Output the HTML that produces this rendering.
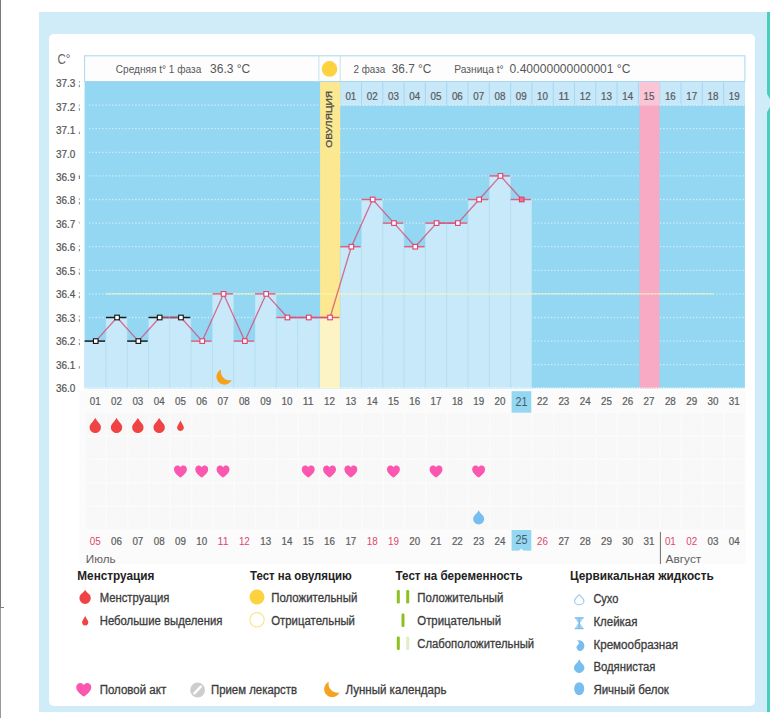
<!DOCTYPE html>
<html lang="ru">
<head>
<meta charset="utf-8">
<title>График базальной температуры</title>
<style>
html,body{margin:0;padding:0;background:#fff;}
body{width:770px;height:723px;position:relative;overflow:hidden;font-family:"Liberation Sans",sans-serif;}
.edge{position:absolute;left:0;top:0;width:1.3px;height:608px;background:#7a7a7a;}
.edge2{position:absolute;left:0;top:608px;width:1.2px;height:110px;background:#999;}
.edge-tick{position:absolute;left:0;top:606.5px;width:3.6px;height:1px;background:#808080;}
.outer{position:absolute;left:38.5px;top:12px;width:728px;height:700px;background:#d0ecf8;}
.strip{position:absolute;left:766.5px;top:12px;width:3.5px;height:700px;background:#45cfbf;}
.notch{position:absolute;left:766px;top:91.5px;width:0;height:0;border-top:11.5px solid transparent;border-bottom:11.5px solid transparent;border-left:6px solid #d0ecf8;}
.card{position:absolute;left:49px;top:34px;width:706.2px;height:671.5px;background:#fff;border-radius:5px;}
svg{position:absolute;left:0;top:0;}
svg text{font-family:"Liberation Sans",sans-serif;}
</style>
</head>
<body>
<div class="edge"></div><div class="edge2"></div><div class="edge-tick"></div>
<div class="outer"></div>
<div class="strip"></div><div class="notch"></div>
<div class="card"></div>
<svg width="770" height="723" viewBox="0 0 770 723">
<defs><pattern id="hatch" width="3" height="3" patternUnits="userSpaceOnUse"><rect width="3" height="3" fill="#f9f9f9"/><path d="M-1,1 l2,-2 M0,3 l3,-3 M2,4 l2,-2" stroke="#f5f5f5" stroke-width=".9"/></pattern></defs>
<g id="below"><rect x="79.5" y="390" width="665.9" height="174.5" fill="#fbfbfb"/><rect x="85.8" y="413.2" width="19.7" height="21.85" fill="url(#hatch)"/><rect x="107.1" y="413.2" width="19.7" height="21.85" fill="url(#hatch)"/><rect x="128.4" y="413.2" width="19.7" height="21.85" fill="url(#hatch)"/><rect x="149.7" y="413.2" width="19.7" height="21.85" fill="url(#hatch)"/><rect x="171" y="413.2" width="19.7" height="21.85" fill="url(#hatch)"/><rect x="192.3" y="413.2" width="19.7" height="21.85" fill="url(#hatch)"/><rect x="213.6" y="413.2" width="19.7" height="21.85" fill="url(#hatch)"/><rect x="234.9" y="413.2" width="19.7" height="21.85" fill="url(#hatch)"/><rect x="256.2" y="413.2" width="19.7" height="21.85" fill="url(#hatch)"/><rect x="277.5" y="413.2" width="19.7" height="21.85" fill="url(#hatch)"/><rect x="298.8" y="413.2" width="19.7" height="21.85" fill="url(#hatch)"/><rect x="320.1" y="413.2" width="19.7" height="21.85" fill="url(#hatch)"/><rect x="341.4" y="413.2" width="19.7" height="21.85" fill="url(#hatch)"/><rect x="362.7" y="413.2" width="19.7" height="21.85" fill="url(#hatch)"/><rect x="384" y="413.2" width="19.7" height="21.85" fill="url(#hatch)"/><rect x="405.3" y="413.2" width="19.7" height="21.85" fill="url(#hatch)"/><rect x="426.6" y="413.2" width="19.7" height="21.85" fill="url(#hatch)"/><rect x="447.9" y="413.2" width="19.7" height="21.85" fill="url(#hatch)"/><rect x="469.2" y="413.2" width="19.7" height="21.85" fill="url(#hatch)"/><rect x="490.5" y="413.2" width="19.7" height="21.85" fill="url(#hatch)"/><rect x="511.8" y="413.2" width="19.7" height="21.85" fill="url(#hatch)"/><rect x="533.1" y="413.2" width="19.7" height="21.85" fill="url(#hatch)"/><rect x="554.4" y="413.2" width="19.7" height="21.85" fill="url(#hatch)"/><rect x="575.7" y="413.2" width="19.7" height="21.85" fill="url(#hatch)"/><rect x="597" y="413.2" width="19.7" height="21.85" fill="url(#hatch)"/><rect x="618.3" y="413.2" width="19.7" height="21.85" fill="url(#hatch)"/><rect x="639.6" y="413.2" width="19.7" height="21.85" fill="url(#hatch)"/><rect x="660.9" y="413.2" width="19.7" height="21.85" fill="url(#hatch)"/><rect x="682.2" y="413.2" width="19.7" height="21.85" fill="url(#hatch)"/><rect x="703.5" y="413.2" width="19.7" height="21.85" fill="url(#hatch)"/><rect x="724.8" y="413.2" width="19.7" height="21.85" fill="url(#hatch)"/><rect x="85.8" y="436.65" width="19.7" height="21.85" fill="url(#hatch)"/><rect x="107.1" y="436.65" width="19.7" height="21.85" fill="url(#hatch)"/><rect x="128.4" y="436.65" width="19.7" height="21.85" fill="url(#hatch)"/><rect x="149.7" y="436.65" width="19.7" height="21.85" fill="url(#hatch)"/><rect x="171" y="436.65" width="19.7" height="21.85" fill="url(#hatch)"/><rect x="192.3" y="436.65" width="19.7" height="21.85" fill="url(#hatch)"/><rect x="213.6" y="436.65" width="19.7" height="21.85" fill="url(#hatch)"/><rect x="234.9" y="436.65" width="19.7" height="21.85" fill="url(#hatch)"/><rect x="256.2" y="436.65" width="19.7" height="21.85" fill="url(#hatch)"/><rect x="277.5" y="436.65" width="19.7" height="21.85" fill="url(#hatch)"/><rect x="298.8" y="436.65" width="19.7" height="21.85" fill="url(#hatch)"/><rect x="320.1" y="436.65" width="19.7" height="21.85" fill="url(#hatch)"/><rect x="341.4" y="436.65" width="19.7" height="21.85" fill="url(#hatch)"/><rect x="362.7" y="436.65" width="19.7" height="21.85" fill="url(#hatch)"/><rect x="384" y="436.65" width="19.7" height="21.85" fill="url(#hatch)"/><rect x="405.3" y="436.65" width="19.7" height="21.85" fill="url(#hatch)"/><rect x="426.6" y="436.65" width="19.7" height="21.85" fill="url(#hatch)"/><rect x="447.9" y="436.65" width="19.7" height="21.85" fill="url(#hatch)"/><rect x="469.2" y="436.65" width="19.7" height="21.85" fill="url(#hatch)"/><rect x="490.5" y="436.65" width="19.7" height="21.85" fill="url(#hatch)"/><rect x="511.8" y="436.65" width="19.7" height="21.85" fill="url(#hatch)"/><rect x="533.1" y="436.65" width="19.7" height="21.85" fill="url(#hatch)"/><rect x="554.4" y="436.65" width="19.7" height="21.85" fill="url(#hatch)"/><rect x="575.7" y="436.65" width="19.7" height="21.85" fill="url(#hatch)"/><rect x="597" y="436.65" width="19.7" height="21.85" fill="url(#hatch)"/><rect x="618.3" y="436.65" width="19.7" height="21.85" fill="url(#hatch)"/><rect x="639.6" y="436.65" width="19.7" height="21.85" fill="url(#hatch)"/><rect x="660.9" y="436.65" width="19.7" height="21.85" fill="url(#hatch)"/><rect x="682.2" y="436.65" width="19.7" height="21.85" fill="url(#hatch)"/><rect x="703.5" y="436.65" width="19.7" height="21.85" fill="url(#hatch)"/><rect x="724.8" y="436.65" width="19.7" height="21.85" fill="url(#hatch)"/><rect x="85.8" y="460.1" width="19.7" height="21.85" fill="url(#hatch)"/><rect x="107.1" y="460.1" width="19.7" height="21.85" fill="url(#hatch)"/><rect x="128.4" y="460.1" width="19.7" height="21.85" fill="url(#hatch)"/><rect x="149.7" y="460.1" width="19.7" height="21.85" fill="url(#hatch)"/><rect x="171" y="460.1" width="19.7" height="21.85" fill="url(#hatch)"/><rect x="192.3" y="460.1" width="19.7" height="21.85" fill="url(#hatch)"/><rect x="213.6" y="460.1" width="19.7" height="21.85" fill="url(#hatch)"/><rect x="234.9" y="460.1" width="19.7" height="21.85" fill="url(#hatch)"/><rect x="256.2" y="460.1" width="19.7" height="21.85" fill="url(#hatch)"/><rect x="277.5" y="460.1" width="19.7" height="21.85" fill="url(#hatch)"/><rect x="298.8" y="460.1" width="19.7" height="21.85" fill="url(#hatch)"/><rect x="320.1" y="460.1" width="19.7" height="21.85" fill="url(#hatch)"/><rect x="341.4" y="460.1" width="19.7" height="21.85" fill="url(#hatch)"/><rect x="362.7" y="460.1" width="19.7" height="21.85" fill="url(#hatch)"/><rect x="384" y="460.1" width="19.7" height="21.85" fill="url(#hatch)"/><rect x="405.3" y="460.1" width="19.7" height="21.85" fill="url(#hatch)"/><rect x="426.6" y="460.1" width="19.7" height="21.85" fill="url(#hatch)"/><rect x="447.9" y="460.1" width="19.7" height="21.85" fill="url(#hatch)"/><rect x="469.2" y="460.1" width="19.7" height="21.85" fill="url(#hatch)"/><rect x="490.5" y="460.1" width="19.7" height="21.85" fill="url(#hatch)"/><rect x="511.8" y="460.1" width="19.7" height="21.85" fill="url(#hatch)"/><rect x="533.1" y="460.1" width="19.7" height="21.85" fill="url(#hatch)"/><rect x="554.4" y="460.1" width="19.7" height="21.85" fill="url(#hatch)"/><rect x="575.7" y="460.1" width="19.7" height="21.85" fill="url(#hatch)"/><rect x="597" y="460.1" width="19.7" height="21.85" fill="url(#hatch)"/><rect x="618.3" y="460.1" width="19.7" height="21.85" fill="url(#hatch)"/><rect x="639.6" y="460.1" width="19.7" height="21.85" fill="url(#hatch)"/><rect x="660.9" y="460.1" width="19.7" height="21.85" fill="url(#hatch)"/><rect x="682.2" y="460.1" width="19.7" height="21.85" fill="url(#hatch)"/><rect x="703.5" y="460.1" width="19.7" height="21.85" fill="url(#hatch)"/><rect x="724.8" y="460.1" width="19.7" height="21.85" fill="url(#hatch)"/><rect x="85.8" y="483.55" width="19.7" height="21.85" fill="url(#hatch)"/><rect x="107.1" y="483.55" width="19.7" height="21.85" fill="url(#hatch)"/><rect x="128.4" y="483.55" width="19.7" height="21.85" fill="url(#hatch)"/><rect x="149.7" y="483.55" width="19.7" height="21.85" fill="url(#hatch)"/><rect x="171" y="483.55" width="19.7" height="21.85" fill="url(#hatch)"/><rect x="192.3" y="483.55" width="19.7" height="21.85" fill="url(#hatch)"/><rect x="213.6" y="483.55" width="19.7" height="21.85" fill="url(#hatch)"/><rect x="234.9" y="483.55" width="19.7" height="21.85" fill="url(#hatch)"/><rect x="256.2" y="483.55" width="19.7" height="21.85" fill="url(#hatch)"/><rect x="277.5" y="483.55" width="19.7" height="21.85" fill="url(#hatch)"/><rect x="298.8" y="483.55" width="19.7" height="21.85" fill="url(#hatch)"/><rect x="320.1" y="483.55" width="19.7" height="21.85" fill="url(#hatch)"/><rect x="341.4" y="483.55" width="19.7" height="21.85" fill="url(#hatch)"/><rect x="362.7" y="483.55" width="19.7" height="21.85" fill="url(#hatch)"/><rect x="384" y="483.55" width="19.7" height="21.85" fill="url(#hatch)"/><rect x="405.3" y="483.55" width="19.7" height="21.85" fill="url(#hatch)"/><rect x="426.6" y="483.55" width="19.7" height="21.85" fill="url(#hatch)"/><rect x="447.9" y="483.55" width="19.7" height="21.85" fill="url(#hatch)"/><rect x="469.2" y="483.55" width="19.7" height="21.85" fill="url(#hatch)"/><rect x="490.5" y="483.55" width="19.7" height="21.85" fill="url(#hatch)"/><rect x="511.8" y="483.55" width="19.7" height="21.85" fill="url(#hatch)"/><rect x="533.1" y="483.55" width="19.7" height="21.85" fill="url(#hatch)"/><rect x="554.4" y="483.55" width="19.7" height="21.85" fill="url(#hatch)"/><rect x="575.7" y="483.55" width="19.7" height="21.85" fill="url(#hatch)"/><rect x="597" y="483.55" width="19.7" height="21.85" fill="url(#hatch)"/><rect x="618.3" y="483.55" width="19.7" height="21.85" fill="url(#hatch)"/><rect x="639.6" y="483.55" width="19.7" height="21.85" fill="url(#hatch)"/><rect x="660.9" y="483.55" width="19.7" height="21.85" fill="url(#hatch)"/><rect x="682.2" y="483.55" width="19.7" height="21.85" fill="url(#hatch)"/><rect x="703.5" y="483.55" width="19.7" height="21.85" fill="url(#hatch)"/><rect x="724.8" y="483.55" width="19.7" height="21.85" fill="url(#hatch)"/><rect x="85.8" y="507" width="19.7" height="21.85" fill="url(#hatch)"/><rect x="107.1" y="507" width="19.7" height="21.85" fill="url(#hatch)"/><rect x="128.4" y="507" width="19.7" height="21.85" fill="url(#hatch)"/><rect x="149.7" y="507" width="19.7" height="21.85" fill="url(#hatch)"/><rect x="171" y="507" width="19.7" height="21.85" fill="url(#hatch)"/><rect x="192.3" y="507" width="19.7" height="21.85" fill="url(#hatch)"/><rect x="213.6" y="507" width="19.7" height="21.85" fill="url(#hatch)"/><rect x="234.9" y="507" width="19.7" height="21.85" fill="url(#hatch)"/><rect x="256.2" y="507" width="19.7" height="21.85" fill="url(#hatch)"/><rect x="277.5" y="507" width="19.7" height="21.85" fill="url(#hatch)"/><rect x="298.8" y="507" width="19.7" height="21.85" fill="url(#hatch)"/><rect x="320.1" y="507" width="19.7" height="21.85" fill="url(#hatch)"/><rect x="341.4" y="507" width="19.7" height="21.85" fill="url(#hatch)"/><rect x="362.7" y="507" width="19.7" height="21.85" fill="url(#hatch)"/><rect x="384" y="507" width="19.7" height="21.85" fill="url(#hatch)"/><rect x="405.3" y="507" width="19.7" height="21.85" fill="url(#hatch)"/><rect x="426.6" y="507" width="19.7" height="21.85" fill="url(#hatch)"/><rect x="447.9" y="507" width="19.7" height="21.85" fill="url(#hatch)"/><rect x="469.2" y="507" width="19.7" height="21.85" fill="url(#hatch)"/><rect x="490.5" y="507" width="19.7" height="21.85" fill="url(#hatch)"/><rect x="511.8" y="507" width="19.7" height="21.85" fill="url(#hatch)"/><rect x="533.1" y="507" width="19.7" height="21.85" fill="url(#hatch)"/><rect x="554.4" y="507" width="19.7" height="21.85" fill="url(#hatch)"/><rect x="575.7" y="507" width="19.7" height="21.85" fill="url(#hatch)"/><rect x="597" y="507" width="19.7" height="21.85" fill="url(#hatch)"/><rect x="618.3" y="507" width="19.7" height="21.85" fill="url(#hatch)"/><rect x="639.6" y="507" width="19.7" height="21.85" fill="url(#hatch)"/><rect x="660.9" y="507" width="19.7" height="21.85" fill="url(#hatch)"/><rect x="682.2" y="507" width="19.7" height="21.85" fill="url(#hatch)"/><rect x="703.5" y="507" width="19.7" height="21.85" fill="url(#hatch)"/><rect x="724.8" y="507" width="19.7" height="21.85" fill="url(#hatch)"/><rect x="511.6" y="391.2" width="19.7" height="21.5" fill="#93d7f2"/><text x="95.25" y="405.2" font-size="10" fill="#5e5e5e" textLength="10.9" lengthAdjust="spacingAndGlyphs" stroke="#5e5e5e" stroke-width=".22" text-anchor="middle" >01</text><text x="116.55" y="405.2" font-size="10" fill="#5e5e5e" textLength="10.9" lengthAdjust="spacingAndGlyphs" stroke="#5e5e5e" stroke-width=".22" text-anchor="middle" >02</text><text x="137.85" y="405.2" font-size="10" fill="#5e5e5e" textLength="10.9" lengthAdjust="spacingAndGlyphs" stroke="#5e5e5e" stroke-width=".22" text-anchor="middle" >03</text><text x="159.15" y="405.2" font-size="10" fill="#5e5e5e" textLength="10.9" lengthAdjust="spacingAndGlyphs" stroke="#5e5e5e" stroke-width=".22" text-anchor="middle" >04</text><text x="180.45" y="405.2" font-size="10" fill="#5e5e5e" textLength="10.9" lengthAdjust="spacingAndGlyphs" stroke="#5e5e5e" stroke-width=".22" text-anchor="middle" >05</text><text x="201.75" y="405.2" font-size="10" fill="#5e5e5e" textLength="10.9" lengthAdjust="spacingAndGlyphs" stroke="#5e5e5e" stroke-width=".22" text-anchor="middle" >06</text><text x="223.05" y="405.2" font-size="10" fill="#5e5e5e" textLength="10.9" lengthAdjust="spacingAndGlyphs" stroke="#5e5e5e" stroke-width=".22" text-anchor="middle" >07</text><text x="244.35" y="405.2" font-size="10" fill="#5e5e5e" textLength="10.9" lengthAdjust="spacingAndGlyphs" stroke="#5e5e5e" stroke-width=".22" text-anchor="middle" >08</text><text x="265.65" y="405.2" font-size="10" fill="#5e5e5e" textLength="10.9" lengthAdjust="spacingAndGlyphs" stroke="#5e5e5e" stroke-width=".22" text-anchor="middle" >09</text><text x="286.95" y="405.2" font-size="10" fill="#5e5e5e" textLength="10.9" lengthAdjust="spacingAndGlyphs" stroke="#5e5e5e" stroke-width=".22" text-anchor="middle" >10</text><text x="308.25" y="405.2" font-size="10" fill="#5e5e5e" textLength="10.9" lengthAdjust="spacingAndGlyphs" stroke="#5e5e5e" stroke-width=".22" text-anchor="middle" >11</text><text x="329.55" y="405.2" font-size="10" fill="#5e5e5e" textLength="10.9" lengthAdjust="spacingAndGlyphs" stroke="#5e5e5e" stroke-width=".22" text-anchor="middle" >12</text><text x="350.85" y="405.2" font-size="10" fill="#5e5e5e" textLength="10.9" lengthAdjust="spacingAndGlyphs" stroke="#5e5e5e" stroke-width=".22" text-anchor="middle" >13</text><text x="372.15" y="405.2" font-size="10" fill="#5e5e5e" textLength="10.9" lengthAdjust="spacingAndGlyphs" stroke="#5e5e5e" stroke-width=".22" text-anchor="middle" >14</text><text x="393.45" y="405.2" font-size="10" fill="#5e5e5e" textLength="10.9" lengthAdjust="spacingAndGlyphs" stroke="#5e5e5e" stroke-width=".22" text-anchor="middle" >15</text><text x="414.75" y="405.2" font-size="10" fill="#5e5e5e" textLength="10.9" lengthAdjust="spacingAndGlyphs" stroke="#5e5e5e" stroke-width=".22" text-anchor="middle" >16</text><text x="436.05" y="405.2" font-size="10" fill="#5e5e5e" textLength="10.9" lengthAdjust="spacingAndGlyphs" stroke="#5e5e5e" stroke-width=".22" text-anchor="middle" >17</text><text x="457.35" y="405.2" font-size="10" fill="#5e5e5e" textLength="10.9" lengthAdjust="spacingAndGlyphs" stroke="#5e5e5e" stroke-width=".22" text-anchor="middle" >18</text><text x="478.65" y="405.2" font-size="10" fill="#5e5e5e" textLength="10.9" lengthAdjust="spacingAndGlyphs" stroke="#5e5e5e" stroke-width=".22" text-anchor="middle" >19</text><text x="499.95" y="405.2" font-size="10" fill="#5e5e5e" textLength="10.9" lengthAdjust="spacingAndGlyphs" stroke="#5e5e5e" stroke-width=".22" text-anchor="middle" >20</text><text x="521.55" y="406.1" font-size="12" fill="#4a5a66" textLength="12" lengthAdjust="spacingAndGlyphs" text-anchor="middle" >21</text><text x="542.55" y="405.2" font-size="10" fill="#5e5e5e" textLength="10.9" lengthAdjust="spacingAndGlyphs" stroke="#5e5e5e" stroke-width=".22" text-anchor="middle" >22</text><text x="563.85" y="405.2" font-size="10" fill="#5e5e5e" textLength="10.9" lengthAdjust="spacingAndGlyphs" stroke="#5e5e5e" stroke-width=".22" text-anchor="middle" >23</text><text x="585.15" y="405.2" font-size="10" fill="#5e5e5e" textLength="10.9" lengthAdjust="spacingAndGlyphs" stroke="#5e5e5e" stroke-width=".22" text-anchor="middle" >24</text><text x="606.45" y="405.2" font-size="10" fill="#5e5e5e" textLength="10.9" lengthAdjust="spacingAndGlyphs" stroke="#5e5e5e" stroke-width=".22" text-anchor="middle" >25</text><text x="627.75" y="405.2" font-size="10" fill="#5e5e5e" textLength="10.9" lengthAdjust="spacingAndGlyphs" stroke="#5e5e5e" stroke-width=".22" text-anchor="middle" >26</text><text x="649.05" y="405.2" font-size="10" fill="#5e5e5e" textLength="10.9" lengthAdjust="spacingAndGlyphs" stroke="#5e5e5e" stroke-width=".22" text-anchor="middle" >27</text><text x="670.35" y="405.2" font-size="10" fill="#5e5e5e" textLength="10.9" lengthAdjust="spacingAndGlyphs" stroke="#5e5e5e" stroke-width=".22" text-anchor="middle" >28</text><text x="691.65" y="405.2" font-size="10" fill="#5e5e5e" textLength="10.9" lengthAdjust="spacingAndGlyphs" stroke="#5e5e5e" stroke-width=".22" text-anchor="middle" >29</text><text x="712.95" y="405.2" font-size="10" fill="#5e5e5e" textLength="10.9" lengthAdjust="spacingAndGlyphs" stroke="#5e5e5e" stroke-width=".22" text-anchor="middle" >30</text><text x="734.25" y="405.2" font-size="10" fill="#5e5e5e" textLength="10.9" lengthAdjust="spacingAndGlyphs" stroke="#5e5e5e" stroke-width=".22" text-anchor="middle" >31</text><rect x="511.6" y="530" width="19.7" height="20.7" fill="#93d7f2"/><path d="M518.65,551 l2.6,-2.6 l2.6,2.6 z" fill="#fbfbfb"/><text x="95.25" y="545.4" font-size="10" fill="#e0466e" textLength="10.9" lengthAdjust="spacingAndGlyphs" text-anchor="middle" >05</text><text x="116.55" y="545.4" font-size="10" fill="#5e5e5e" textLength="10.9" lengthAdjust="spacingAndGlyphs" stroke="#5e5e5e" stroke-width=".22" text-anchor="middle" >06</text><text x="137.85" y="545.4" font-size="10" fill="#5e5e5e" textLength="10.9" lengthAdjust="spacingAndGlyphs" stroke="#5e5e5e" stroke-width=".22" text-anchor="middle" >07</text><text x="159.15" y="545.4" font-size="10" fill="#5e5e5e" textLength="10.9" lengthAdjust="spacingAndGlyphs" stroke="#5e5e5e" stroke-width=".22" text-anchor="middle" >08</text><text x="180.45" y="545.4" font-size="10" fill="#5e5e5e" textLength="10.9" lengthAdjust="spacingAndGlyphs" stroke="#5e5e5e" stroke-width=".22" text-anchor="middle" >09</text><text x="201.75" y="545.4" font-size="10" fill="#5e5e5e" textLength="10.9" lengthAdjust="spacingAndGlyphs" stroke="#5e5e5e" stroke-width=".22" text-anchor="middle" >10</text><text x="223.05" y="545.4" font-size="10" fill="#e0466e" textLength="10.9" lengthAdjust="spacingAndGlyphs" text-anchor="middle" >11</text><text x="244.35" y="545.4" font-size="10" fill="#e0466e" textLength="10.9" lengthAdjust="spacingAndGlyphs" text-anchor="middle" >12</text><text x="265.65" y="545.4" font-size="10" fill="#5e5e5e" textLength="10.9" lengthAdjust="spacingAndGlyphs" stroke="#5e5e5e" stroke-width=".22" text-anchor="middle" >13</text><text x="286.95" y="545.4" font-size="10" fill="#5e5e5e" textLength="10.9" lengthAdjust="spacingAndGlyphs" stroke="#5e5e5e" stroke-width=".22" text-anchor="middle" >14</text><text x="308.25" y="545.4" font-size="10" fill="#5e5e5e" textLength="10.9" lengthAdjust="spacingAndGlyphs" stroke="#5e5e5e" stroke-width=".22" text-anchor="middle" >15</text><text x="329.55" y="545.4" font-size="10" fill="#5e5e5e" textLength="10.9" lengthAdjust="spacingAndGlyphs" stroke="#5e5e5e" stroke-width=".22" text-anchor="middle" >16</text><text x="350.85" y="545.4" font-size="10" fill="#5e5e5e" textLength="10.9" lengthAdjust="spacingAndGlyphs" stroke="#5e5e5e" stroke-width=".22" text-anchor="middle" >17</text><text x="372.15" y="545.4" font-size="10" fill="#e0466e" textLength="10.9" lengthAdjust="spacingAndGlyphs" text-anchor="middle" >18</text><text x="393.45" y="545.4" font-size="10" fill="#e0466e" textLength="10.9" lengthAdjust="spacingAndGlyphs" text-anchor="middle" >19</text><text x="414.75" y="545.4" font-size="10" fill="#5e5e5e" textLength="10.9" lengthAdjust="spacingAndGlyphs" stroke="#5e5e5e" stroke-width=".22" text-anchor="middle" >20</text><text x="436.05" y="545.4" font-size="10" fill="#5e5e5e" textLength="10.9" lengthAdjust="spacingAndGlyphs" stroke="#5e5e5e" stroke-width=".22" text-anchor="middle" >21</text><text x="457.35" y="545.4" font-size="10" fill="#5e5e5e" textLength="10.9" lengthAdjust="spacingAndGlyphs" stroke="#5e5e5e" stroke-width=".22" text-anchor="middle" >22</text><text x="478.65" y="545.4" font-size="10" fill="#5e5e5e" textLength="10.9" lengthAdjust="spacingAndGlyphs" stroke="#5e5e5e" stroke-width=".22" text-anchor="middle" >23</text><text x="499.95" y="545.4" font-size="10" fill="#5e5e5e" textLength="10.9" lengthAdjust="spacingAndGlyphs" stroke="#5e5e5e" stroke-width=".22" text-anchor="middle" >24</text><text x="521.55" y="544.2" font-size="12" fill="#4a5a66" textLength="12" lengthAdjust="spacingAndGlyphs" text-anchor="middle" >25</text><text x="542.55" y="545.4" font-size="10" fill="#e0466e" textLength="10.9" lengthAdjust="spacingAndGlyphs" text-anchor="middle" >26</text><text x="563.85" y="545.4" font-size="10" fill="#5e5e5e" textLength="10.9" lengthAdjust="spacingAndGlyphs" stroke="#5e5e5e" stroke-width=".22" text-anchor="middle" >27</text><text x="585.15" y="545.4" font-size="10" fill="#5e5e5e" textLength="10.9" lengthAdjust="spacingAndGlyphs" stroke="#5e5e5e" stroke-width=".22" text-anchor="middle" >28</text><text x="606.45" y="545.4" font-size="10" fill="#5e5e5e" textLength="10.9" lengthAdjust="spacingAndGlyphs" stroke="#5e5e5e" stroke-width=".22" text-anchor="middle" >29</text><text x="627.75" y="545.4" font-size="10" fill="#5e5e5e" textLength="10.9" lengthAdjust="spacingAndGlyphs" stroke="#5e5e5e" stroke-width=".22" text-anchor="middle" >30</text><text x="649.05" y="545.4" font-size="10" fill="#5e5e5e" textLength="10.9" lengthAdjust="spacingAndGlyphs" stroke="#5e5e5e" stroke-width=".22" text-anchor="middle" >31</text><text x="670.35" y="545.4" font-size="10" fill="#e0466e" textLength="10.9" lengthAdjust="spacingAndGlyphs" text-anchor="middle" >01</text><text x="691.65" y="545.4" font-size="10" fill="#e0466e" textLength="10.9" lengthAdjust="spacingAndGlyphs" text-anchor="middle" >02</text><text x="712.95" y="545.4" font-size="10" fill="#5e5e5e" textLength="10.9" lengthAdjust="spacingAndGlyphs" stroke="#5e5e5e" stroke-width=".22" text-anchor="middle" >03</text><text x="734.25" y="545.4" font-size="10" fill="#5e5e5e" textLength="10.9" lengthAdjust="spacingAndGlyphs" stroke="#5e5e5e" stroke-width=".22" text-anchor="middle" >04</text><text x="85.8" y="563" font-size="11" fill="#606060" textLength="29.8" lengthAdjust="spacingAndGlyphs" >Июль</text><text x="665.5" y="563" font-size="11" fill="#606060" textLength="35.8" lengthAdjust="spacingAndGlyphs" >Август</text><rect x="659.9" y="532" width="1.1" height="32" fill="#7a7a7a"/><path d="M95.25,418.1 Q97.14,421.29 99.75,423.91 A5.7,5.7 0 1 1 90.75,423.91 Q93.36,421.29 95.25,418.1 Z" fill="#f04343"/><path d="M116.55,418.1 Q118.44,421.29 121.05,423.91 A5.7,5.7 0 1 1 112.05,423.91 Q114.66,421.29 116.55,418.1 Z" fill="#f04343"/><path d="M137.85,418.1 Q139.74,421.29 142.35,423.91 A5.7,5.7 0 1 1 133.35,423.91 Q135.96,421.29 137.85,418.1 Z" fill="#f04343"/><path d="M159.15,418.1 Q161.04,421.29 163.65,423.91 A5.7,5.7 0 1 1 154.65,423.91 Q157.26,421.29 159.15,418.1 Z" fill="#f04343"/><path d="M180.45,420.6 Q181.94,423.54 183.42,425.95 A3.4,3.4 0 1 1 177.48,425.95 Q178.96,423.54 180.45,420.6 Z" fill="#f04343"/><path transform="translate(173.95,465.6) scale(0.54,0.57)" d="M12,21 C11,21 9.6,19.8 8,18.4 C4,15 0,11.4 0,6.6 C0,2.6 3,0 6.4,0 C8.8,0 10.9,1.2 12,3 C13.1,1.2 15.2,0 17.6,0 C21,0 24,2.6 24,6.6 C24,11.4 20,15 16,18.4 C14.4,19.8 13,21 12,21 Z" fill="#fb57b0"/><path transform="translate(195.25,465.6) scale(0.54,0.57)" d="M12,21 C11,21 9.6,19.8 8,18.4 C4,15 0,11.4 0,6.6 C0,2.6 3,0 6.4,0 C8.8,0 10.9,1.2 12,3 C13.1,1.2 15.2,0 17.6,0 C21,0 24,2.6 24,6.6 C24,11.4 20,15 16,18.4 C14.4,19.8 13,21 12,21 Z" fill="#fb57b0"/><path transform="translate(216.55,465.6) scale(0.54,0.57)" d="M12,21 C11,21 9.6,19.8 8,18.4 C4,15 0,11.4 0,6.6 C0,2.6 3,0 6.4,0 C8.8,0 10.9,1.2 12,3 C13.1,1.2 15.2,0 17.6,0 C21,0 24,2.6 24,6.6 C24,11.4 20,15 16,18.4 C14.4,19.8 13,21 12,21 Z" fill="#fb57b0"/><path transform="translate(301.75,465.6) scale(0.54,0.57)" d="M12,21 C11,21 9.6,19.8 8,18.4 C4,15 0,11.4 0,6.6 C0,2.6 3,0 6.4,0 C8.8,0 10.9,1.2 12,3 C13.1,1.2 15.2,0 17.6,0 C21,0 24,2.6 24,6.6 C24,11.4 20,15 16,18.4 C14.4,19.8 13,21 12,21 Z" fill="#fb57b0"/><path transform="translate(323.05,465.6) scale(0.54,0.57)" d="M12,21 C11,21 9.6,19.8 8,18.4 C4,15 0,11.4 0,6.6 C0,2.6 3,0 6.4,0 C8.8,0 10.9,1.2 12,3 C13.1,1.2 15.2,0 17.6,0 C21,0 24,2.6 24,6.6 C24,11.4 20,15 16,18.4 C14.4,19.8 13,21 12,21 Z" fill="#fb57b0"/><path transform="translate(344.35,465.6) scale(0.54,0.57)" d="M12,21 C11,21 9.6,19.8 8,18.4 C4,15 0,11.4 0,6.6 C0,2.6 3,0 6.4,0 C8.8,0 10.9,1.2 12,3 C13.1,1.2 15.2,0 17.6,0 C21,0 24,2.6 24,6.6 C24,11.4 20,15 16,18.4 C14.4,19.8 13,21 12,21 Z" fill="#fb57b0"/><path transform="translate(386.95,465.6) scale(0.54,0.57)" d="M12,21 C11,21 9.6,19.8 8,18.4 C4,15 0,11.4 0,6.6 C0,2.6 3,0 6.4,0 C8.8,0 10.9,1.2 12,3 C13.1,1.2 15.2,0 17.6,0 C21,0 24,2.6 24,6.6 C24,11.4 20,15 16,18.4 C14.4,19.8 13,21 12,21 Z" fill="#fb57b0"/><path transform="translate(429.55,465.6) scale(0.54,0.57)" d="M12,21 C11,21 9.6,19.8 8,18.4 C4,15 0,11.4 0,6.6 C0,2.6 3,0 6.4,0 C8.8,0 10.9,1.2 12,3 C13.1,1.2 15.2,0 17.6,0 C21,0 24,2.6 24,6.6 C24,11.4 20,15 16,18.4 C14.4,19.8 13,21 12,21 Z" fill="#fb57b0"/><path transform="translate(472.15,465.6) scale(0.54,0.57)" d="M12,21 C11,21 9.6,19.8 8,18.4 C4,15 0,11.4 0,6.6 C0,2.6 3,0 6.4,0 C8.8,0 10.9,1.2 12,3 C13.1,1.2 15.2,0 17.6,0 C21,0 24,2.6 24,6.6 C24,11.4 20,15 16,18.4 C14.4,19.8 13,21 12,21 Z" fill="#fb57b0"/><path d="M478.65,510.3 Q479.84,513.17 482.91,515.52 A5.5,5.5 0 1 1 474.39,515.52 Q477.46,513.17 478.65,510.3 Z" fill="#78bdef"/></g>
<g id="chart"><rect x="84.6" y="81.5" width="660.3" height="306.8" fill="#93d7f2"/><rect x="340.2" y="81.5" width="404.7" height="24" fill="#c6e8f9"/><rect x="361" y="81.5" width="1" height="24" fill="#a6d8ef"/><rect x="382.3" y="81.5" width="1" height="24" fill="#a6d8ef"/><rect x="403.6" y="81.5" width="1" height="24" fill="#a6d8ef"/><rect x="424.9" y="81.5" width="1" height="24" fill="#a6d8ef"/><rect x="446.2" y="81.5" width="1" height="24" fill="#a6d8ef"/><rect x="467.5" y="81.5" width="1" height="24" fill="#a6d8ef"/><rect x="488.8" y="81.5" width="1" height="24" fill="#a6d8ef"/><rect x="510.1" y="81.5" width="1" height="24" fill="#a6d8ef"/><rect x="531.4" y="81.5" width="1" height="24" fill="#a6d8ef"/><rect x="552.7" y="81.5" width="1" height="24" fill="#a6d8ef"/><rect x="574" y="81.5" width="1" height="24" fill="#a6d8ef"/><rect x="595.3" y="81.5" width="1" height="24" fill="#a6d8ef"/><rect x="616.6" y="81.5" width="1" height="24" fill="#a6d8ef"/><rect x="637.9" y="81.5" width="1" height="24" fill="#a6d8ef"/><rect x="659.2" y="81.5" width="1" height="24" fill="#a6d8ef"/><rect x="680.5" y="81.5" width="1" height="24" fill="#a6d8ef"/><rect x="701.8" y="81.5" width="1" height="24" fill="#a6d8ef"/><rect x="723.1" y="81.5" width="1" height="24" fill="#a6d8ef"/><rect x="84.6" y="341.1" width="21.3" height="47.2" fill="#c7e9fa"/><rect x="105.9" y="317.5" width="21.3" height="70.8" fill="#c7e9fa"/><rect x="127.2" y="341.1" width="21.3" height="47.2" fill="#c7e9fa"/><rect x="148.5" y="317.5" width="21.3" height="70.8" fill="#c7e9fa"/><rect x="169.8" y="317.5" width="21.3" height="70.8" fill="#c7e9fa"/><rect x="191.1" y="341.1" width="21.3" height="47.2" fill="#c7e9fa"/><rect x="212.4" y="293.9" width="21.3" height="94.4" fill="#c7e9fa"/><rect x="233.7" y="341.1" width="21.3" height="47.2" fill="#c7e9fa"/><rect x="255" y="293.9" width="21.3" height="94.4" fill="#c7e9fa"/><rect x="276.3" y="317.5" width="21.3" height="70.8" fill="#c7e9fa"/><rect x="297.6" y="317.5" width="21.3" height="70.8" fill="#c7e9fa"/><rect x="318.9" y="317.5" width="21.3" height="70.8" fill="#c7e9fa"/><rect x="340.2" y="246.7" width="21.3" height="141.6" fill="#c7e9fa"/><rect x="361.5" y="199.5" width="21.3" height="188.8" fill="#c7e9fa"/><rect x="382.8" y="223.1" width="21.3" height="165.2" fill="#c7e9fa"/><rect x="404.1" y="246.7" width="21.3" height="141.6" fill="#c7e9fa"/><rect x="425.4" y="223.1" width="21.3" height="165.2" fill="#c7e9fa"/><rect x="446.7" y="223.1" width="21.3" height="165.2" fill="#c7e9fa"/><rect x="468" y="199.5" width="21.3" height="188.8" fill="#c7e9fa"/><rect x="489.3" y="175.9" width="21.3" height="212.4" fill="#c7e9fa"/><rect x="510.6" y="199.5" width="21.3" height="188.8" fill="#c7e9fa"/><line x1="89" y1="105.1" x2="744.9" y2="105.1" stroke="#fff" stroke-opacity=".58" stroke-width="1.3" stroke-dasharray="1.3 2"/><line x1="89" y1="128.7" x2="744.9" y2="128.7" stroke="#fff" stroke-opacity=".58" stroke-width="1.3" stroke-dasharray="1.3 2"/><line x1="89" y1="152.3" x2="744.9" y2="152.3" stroke="#fff" stroke-opacity=".58" stroke-width="1.3" stroke-dasharray="1.3 2"/><line x1="89" y1="175.9" x2="744.9" y2="175.9" stroke="#fff" stroke-opacity=".58" stroke-width="1.3" stroke-dasharray="1.3 2"/><line x1="89" y1="199.5" x2="744.9" y2="199.5" stroke="#fff" stroke-opacity=".58" stroke-width="1.3" stroke-dasharray="1.3 2"/><line x1="89" y1="223.1" x2="744.9" y2="223.1" stroke="#fff" stroke-opacity=".58" stroke-width="1.3" stroke-dasharray="1.3 2"/><line x1="89" y1="246.7" x2="744.9" y2="246.7" stroke="#fff" stroke-opacity=".58" stroke-width="1.3" stroke-dasharray="1.3 2"/><line x1="89" y1="270.3" x2="744.9" y2="270.3" stroke="#fff" stroke-opacity=".58" stroke-width="1.3" stroke-dasharray="1.3 2"/><line x1="89" y1="293.9" x2="744.9" y2="293.9" stroke="#fff" stroke-opacity=".58" stroke-width="1.3" stroke-dasharray="1.3 2"/><line x1="89" y1="317.5" x2="744.9" y2="317.5" stroke="#fff" stroke-opacity=".58" stroke-width="1.3" stroke-dasharray="1.3 2"/><line x1="89" y1="341.1" x2="744.9" y2="341.1" stroke="#fff" stroke-opacity=".58" stroke-width="1.3" stroke-dasharray="1.3 2"/><line x1="89" y1="364.7" x2="744.9" y2="364.7" stroke="#fff" stroke-opacity=".58" stroke-width="1.3" stroke-dasharray="1.3 2"/><rect x="84.6" y="341.1" width="21.3" height="47.2" fill="#c7e9fa"/><rect x="105.9" y="317.5" width="21.3" height="70.8" fill="#c7e9fa"/><rect x="127.2" y="341.1" width="21.3" height="47.2" fill="#c7e9fa"/><rect x="148.5" y="317.5" width="21.3" height="70.8" fill="#c7e9fa"/><rect x="169.8" y="317.5" width="21.3" height="70.8" fill="#c7e9fa"/><rect x="191.1" y="341.1" width="21.3" height="47.2" fill="#c7e9fa"/><rect x="212.4" y="293.9" width="21.3" height="94.4" fill="#c7e9fa"/><rect x="233.7" y="341.1" width="21.3" height="47.2" fill="#c7e9fa"/><rect x="255" y="293.9" width="21.3" height="94.4" fill="#c7e9fa"/><rect x="276.3" y="317.5" width="21.3" height="70.8" fill="#c7e9fa"/><rect x="297.6" y="317.5" width="21.3" height="70.8" fill="#c7e9fa"/><rect x="318.9" y="317.5" width="21.3" height="70.8" fill="#c7e9fa"/><rect x="340.2" y="246.7" width="21.3" height="141.6" fill="#c7e9fa"/><rect x="361.5" y="199.5" width="21.3" height="188.8" fill="#c7e9fa"/><rect x="382.8" y="223.1" width="21.3" height="165.2" fill="#c7e9fa"/><rect x="404.1" y="246.7" width="21.3" height="141.6" fill="#c7e9fa"/><rect x="425.4" y="223.1" width="21.3" height="165.2" fill="#c7e9fa"/><rect x="446.7" y="223.1" width="21.3" height="165.2" fill="#c7e9fa"/><rect x="468" y="199.5" width="21.3" height="188.8" fill="#c7e9fa"/><rect x="489.3" y="175.9" width="21.3" height="212.4" fill="#c7e9fa"/><rect x="510.6" y="199.5" width="21.3" height="188.8" fill="#c7e9fa"/><rect x="320.1" y="81.5" width="20.1" height="236" fill="#fce890"/><rect x="320.1" y="317.5" width="20.1" height="70.8" fill="#fdf4c4"/><rect x="639.6" y="81.5" width="19.9" height="24" fill="#fbc5d6"/><rect x="639.6" y="105.5" width="19.9" height="282.8" fill="#f8a9c3"/><rect x="105.4" y="317.5" width="1" height="70.8" fill="#9fd3ec" fill-opacity=".42"/><rect x="126.7" y="317.5" width="1" height="70.8" fill="#9fd3ec" fill-opacity=".42"/><rect x="148" y="317.5" width="1" height="70.8" fill="#9fd3ec" fill-opacity=".42"/><rect x="169.3" y="317.5" width="1" height="70.8" fill="#9fd3ec" fill-opacity=".42"/><rect x="190.6" y="317.5" width="1" height="70.8" fill="#9fd3ec" fill-opacity=".42"/><rect x="211.9" y="293.9" width="1" height="94.4" fill="#9fd3ec" fill-opacity=".42"/><rect x="233.2" y="293.9" width="1" height="94.4" fill="#9fd3ec" fill-opacity=".42"/><rect x="254.5" y="293.9" width="1" height="94.4" fill="#9fd3ec" fill-opacity=".42"/><rect x="275.8" y="293.9" width="1" height="94.4" fill="#9fd3ec" fill-opacity=".42"/><rect x="297.1" y="317.5" width="1" height="70.8" fill="#9fd3ec" fill-opacity=".42"/><rect x="318.4" y="317.5" width="1" height="70.8" fill="#9fd3ec" fill-opacity=".42"/><rect x="339.7" y="246.7" width="1" height="141.6" fill="#9fd3ec" fill-opacity=".42"/><rect x="361" y="199.5" width="1" height="188.8" fill="#9fd3ec" fill-opacity=".42"/><rect x="382.3" y="199.5" width="1" height="188.8" fill="#9fd3ec" fill-opacity=".42"/><rect x="403.6" y="223.1" width="1" height="165.2" fill="#9fd3ec" fill-opacity=".42"/><rect x="424.9" y="223.1" width="1" height="165.2" fill="#9fd3ec" fill-opacity=".42"/><rect x="446.2" y="223.1" width="1" height="165.2" fill="#9fd3ec" fill-opacity=".42"/><rect x="467.5" y="199.5" width="1" height="188.8" fill="#9fd3ec" fill-opacity=".42"/><rect x="488.8" y="175.9" width="1" height="212.4" fill="#9fd3ec" fill-opacity=".42"/><rect x="510.1" y="175.9" width="1" height="212.4" fill="#9fd3ec" fill-opacity=".42"/><rect x="531.4" y="199.5" width="1" height="188.8" fill="#9fd3ec" fill-opacity=".42"/><line x1="106.5" y1="293.9" x2="714" y2="293.9" stroke="#fff5a6" stroke-opacity=".64" stroke-width="1.4"/><line x1="106.5" y1="293.9" x2="714" y2="293.9" stroke="#fff" stroke-opacity=".45" stroke-width="1.2" stroke-dasharray="1.2 2.1"/><line x1="84.6" y1="341.1" x2="105.1" y2="341.1" stroke="#1a1a1a" stroke-width="1.5"/><line x1="105.9" y1="317.5" x2="126.4" y2="317.5" stroke="#1a1a1a" stroke-width="1.5"/><line x1="127.2" y1="341.1" x2="147.7" y2="341.1" stroke="#1a1a1a" stroke-width="1.5"/><line x1="148.5" y1="317.5" x2="169" y2="317.5" stroke="#1a1a1a" stroke-width="1.5"/><line x1="169.8" y1="317.5" x2="190.3" y2="317.5" stroke="#1a1a1a" stroke-width="1.5"/><line x1="191.1" y1="341.1" x2="211.6" y2="341.1" stroke="#e0607f" stroke-width="1.5"/><line x1="212.4" y1="293.9" x2="232.9" y2="293.9" stroke="#e0607f" stroke-width="1.5"/><line x1="233.7" y1="341.1" x2="254.2" y2="341.1" stroke="#e0607f" stroke-width="1.5"/><line x1="255" y1="293.9" x2="275.5" y2="293.9" stroke="#e0607f" stroke-width="1.5"/><line x1="276.3" y1="317.5" x2="296.8" y2="317.5" stroke="#e0607f" stroke-width="1.5"/><line x1="297.6" y1="317.5" x2="318.1" y2="317.5" stroke="#e0607f" stroke-width="1.5"/><line x1="318.9" y1="317.5" x2="339.4" y2="317.5" stroke="#e0607f" stroke-width="1.5"/><line x1="340.2" y1="246.7" x2="360.7" y2="246.7" stroke="#e0607f" stroke-width="1.5"/><line x1="361.5" y1="199.5" x2="382" y2="199.5" stroke="#e0607f" stroke-width="1.5"/><line x1="382.8" y1="223.1" x2="403.3" y2="223.1" stroke="#e0607f" stroke-width="1.5"/><line x1="404.1" y1="246.7" x2="424.6" y2="246.7" stroke="#e0607f" stroke-width="1.5"/><line x1="425.4" y1="223.1" x2="445.9" y2="223.1" stroke="#e0607f" stroke-width="1.5"/><line x1="446.7" y1="223.1" x2="467.2" y2="223.1" stroke="#e0607f" stroke-width="1.5"/><line x1="468" y1="199.5" x2="488.5" y2="199.5" stroke="#e0607f" stroke-width="1.5"/><line x1="489.3" y1="175.9" x2="509.8" y2="175.9" stroke="#e0607f" stroke-width="1.5"/><line x1="510.6" y1="199.5" x2="531.1" y2="199.5" stroke="#e0607f" stroke-width="1.5"/><polyline points="95.75,341.1 117.05,317.5 138.35,341.1 159.65,317.5 180.95,317.5 202.25,341.1 223.55,293.9 244.85,341.1 266.15,293.9 287.45,317.5 308.75,317.5 330.05,317.5 351.35,246.7 372.65,199.5 393.95,223.1 415.25,246.7 436.55,223.1 457.85,223.1 479.15,199.5 500.45,175.9 521.75,199.5" fill="none" stroke="#d4507a" stroke-opacity=".82" stroke-width="1.3" stroke-linejoin="round"/><rect x="93.45" y="338.8" width="4.6" height="4.6" fill="#fff" stroke="#111" stroke-width="1.1"/><rect x="114.75" y="315.2" width="4.6" height="4.6" fill="#fff" stroke="#111" stroke-width="1.1"/><rect x="136.05" y="338.8" width="4.6" height="4.6" fill="#fff" stroke="#111" stroke-width="1.1"/><rect x="157.35" y="315.2" width="4.6" height="4.6" fill="#fff" stroke="#111" stroke-width="1.1"/><rect x="178.65" y="315.2" width="4.6" height="4.6" fill="#fff" stroke="#111" stroke-width="1.1"/><rect x="199.95" y="338.8" width="4.6" height="4.6" fill="#fff" stroke="#e0406c" stroke-width="1.1"/><rect x="221.25" y="291.6" width="4.6" height="4.6" fill="#fff" stroke="#e0406c" stroke-width="1.1"/><rect x="242.55" y="338.8" width="4.6" height="4.6" fill="#fff" stroke="#e0406c" stroke-width="1.1"/><rect x="263.85" y="291.6" width="4.6" height="4.6" fill="#fff" stroke="#e0406c" stroke-width="1.1"/><rect x="285.15" y="315.2" width="4.6" height="4.6" fill="#fff" stroke="#e0406c" stroke-width="1.1"/><rect x="306.45" y="315.2" width="4.6" height="4.6" fill="#fff" stroke="#e0406c" stroke-width="1.1"/><rect x="327.75" y="315.2" width="4.6" height="4.6" fill="#fff" stroke="#e0406c" stroke-width="1.1"/><rect x="349.05" y="244.4" width="4.6" height="4.6" fill="#fff" stroke="#e0406c" stroke-width="1.1"/><rect x="370.35" y="197.2" width="4.6" height="4.6" fill="#fff" stroke="#e0406c" stroke-width="1.1"/><rect x="391.65" y="220.8" width="4.6" height="4.6" fill="#fff" stroke="#e0406c" stroke-width="1.1"/><rect x="412.95" y="244.4" width="4.6" height="4.6" fill="#fff" stroke="#e0406c" stroke-width="1.1"/><rect x="434.25" y="220.8" width="4.6" height="4.6" fill="#fff" stroke="#e0406c" stroke-width="1.1"/><rect x="455.55" y="220.8" width="4.6" height="4.6" fill="#fff" stroke="#e0406c" stroke-width="1.1"/><rect x="476.85" y="197.2" width="4.6" height="4.6" fill="#fff" stroke="#e0406c" stroke-width="1.1"/><rect x="498.15" y="173.6" width="4.6" height="4.6" fill="#fff" stroke="#e0406c" stroke-width="1.1"/><rect x="519.45" y="197.2" width="4.6" height="4.6" fill="#f0708f" stroke="#e0406c" stroke-width="1.1"/><line x1="84.6" y1="387.9" x2="744.9" y2="387.9" stroke="#fff" stroke-opacity=".7" stroke-width="1.2" stroke-dasharray="1.2 1.2"/><path transform="translate(224.1,377.5)" d="M-3,-8.1 A8,8 0 1 0 7.6,2.5 A8.74,8.74 0 0 1 -3,-8.1 Z" fill="#f5a21f"/><rect x="84.6" y="55.8" width="660.3" height="25.7" fill="#fdfdfd" stroke="#a9d6ee" stroke-width="1"/><rect x="318.4" y="56" width="1" height="25.5" fill="#c4e3f2"/><rect x="339.7" y="56" width="1" height="25.5" fill="#c4e3f2"/><circle cx="329.55" cy="68.9" r="7.8" fill="#fcd23f"/><text x="115.8" y="72.9" font-size="10" fill="#585858" textLength="85.5" lengthAdjust="spacingAndGlyphs" >Средняя t° 1 фаза</text><text x="210" y="72.9" font-size="12" fill="#585858" textLength="40.3" lengthAdjust="spacingAndGlyphs" >36.3 °C</text><text x="353.5" y="72.9" font-size="10" fill="#585858" textLength="31.7" lengthAdjust="spacingAndGlyphs" >2 фаза</text><text x="391.7" y="72.9" font-size="12" fill="#585858" textLength="39.7" lengthAdjust="spacingAndGlyphs" >36.7 °C</text><text x="454.3" y="72.9" font-size="10" fill="#585858" textLength="49.3" lengthAdjust="spacingAndGlyphs" >Разница t°</text><text x="509.6" y="72.9" font-size="12" fill="#585858" textLength="120.8" lengthAdjust="spacingAndGlyphs" >0.40000000000001 °C</text><text transform="translate(331.75,147.8) rotate(-90)" font-size="9.6" fill="#4a4a4a" stroke="#4a4a4a" stroke-width=".25" textLength="57" lengthAdjust="spacingAndGlyphs">ОВУЛЯЦИЯ</text><text x="350.85" y="99.7" font-size="10.7" fill="#5a5a5a" textLength="10.9" lengthAdjust="spacingAndGlyphs" stroke="#5a5a5a" stroke-width=".22" text-anchor="middle" >01</text><text x="372.15" y="99.7" font-size="10.7" fill="#5a5a5a" textLength="10.9" lengthAdjust="spacingAndGlyphs" stroke="#5a5a5a" stroke-width=".22" text-anchor="middle" >02</text><text x="393.45" y="99.7" font-size="10.7" fill="#5a5a5a" textLength="10.9" lengthAdjust="spacingAndGlyphs" stroke="#5a5a5a" stroke-width=".22" text-anchor="middle" >03</text><text x="414.75" y="99.7" font-size="10.7" fill="#5a5a5a" textLength="10.9" lengthAdjust="spacingAndGlyphs" stroke="#5a5a5a" stroke-width=".22" text-anchor="middle" >04</text><text x="436.05" y="99.7" font-size="10.7" fill="#5a5a5a" textLength="10.9" lengthAdjust="spacingAndGlyphs" stroke="#5a5a5a" stroke-width=".22" text-anchor="middle" >05</text><text x="457.35" y="99.7" font-size="10.7" fill="#5a5a5a" textLength="10.9" lengthAdjust="spacingAndGlyphs" stroke="#5a5a5a" stroke-width=".22" text-anchor="middle" >06</text><text x="478.65" y="99.7" font-size="10.7" fill="#5a5a5a" textLength="10.9" lengthAdjust="spacingAndGlyphs" stroke="#5a5a5a" stroke-width=".22" text-anchor="middle" >07</text><text x="499.95" y="99.7" font-size="10.7" fill="#5a5a5a" textLength="10.9" lengthAdjust="spacingAndGlyphs" stroke="#5a5a5a" stroke-width=".22" text-anchor="middle" >08</text><text x="521.25" y="99.7" font-size="10.7" fill="#5a5a5a" textLength="10.9" lengthAdjust="spacingAndGlyphs" stroke="#5a5a5a" stroke-width=".22" text-anchor="middle" >09</text><text x="542.55" y="99.7" font-size="10.7" fill="#5a5a5a" textLength="10.9" lengthAdjust="spacingAndGlyphs" stroke="#5a5a5a" stroke-width=".22" text-anchor="middle" >10</text><text x="563.85" y="99.7" font-size="10.7" fill="#5a5a5a" textLength="10.9" lengthAdjust="spacingAndGlyphs" stroke="#5a5a5a" stroke-width=".22" text-anchor="middle" >11</text><text x="585.15" y="99.7" font-size="10.7" fill="#5a5a5a" textLength="10.9" lengthAdjust="spacingAndGlyphs" stroke="#5a5a5a" stroke-width=".22" text-anchor="middle" >12</text><text x="606.45" y="99.7" font-size="10.7" fill="#5a5a5a" textLength="10.9" lengthAdjust="spacingAndGlyphs" stroke="#5a5a5a" stroke-width=".22" text-anchor="middle" >13</text><text x="627.75" y="99.7" font-size="10.7" fill="#5a5a5a" textLength="10.9" lengthAdjust="spacingAndGlyphs" stroke="#5a5a5a" stroke-width=".22" text-anchor="middle" >14</text><text x="649.05" y="99.7" font-size="10.7" fill="#5a5a5a" textLength="10.9" lengthAdjust="spacingAndGlyphs" stroke="#5a5a5a" stroke-width=".22" text-anchor="middle" >15</text><text x="670.35" y="99.7" font-size="10.7" fill="#5a5a5a" textLength="10.9" lengthAdjust="spacingAndGlyphs" stroke="#5a5a5a" stroke-width=".22" text-anchor="middle" >16</text><text x="691.65" y="99.7" font-size="10.7" fill="#5a5a5a" textLength="10.9" lengthAdjust="spacingAndGlyphs" stroke="#5a5a5a" stroke-width=".22" text-anchor="middle" >17</text><text x="712.95" y="99.7" font-size="10.7" fill="#5a5a5a" textLength="10.9" lengthAdjust="spacingAndGlyphs" stroke="#5a5a5a" stroke-width=".22" text-anchor="middle" >18</text><text x="734.25" y="99.7" font-size="10.7" fill="#5a5a5a" textLength="10.9" lengthAdjust="spacingAndGlyphs" stroke="#5a5a5a" stroke-width=".22" text-anchor="middle" >19</text><text x="57.5" y="63.5" font-size="14" fill="#666" textLength="13" lengthAdjust="spacingAndGlyphs" >C°</text><text x="75.4" y="87.2" font-size="10.8" fill="#555" textLength="19.4" lengthAdjust="spacingAndGlyphs" stroke="#555" stroke-width=".22" text-anchor="end" >37.3</text><rect x="78.8" y="84.8" width="1.1" height="2.4" fill="#666" fill-opacity=".75"/><rect x="78.8" y="81" width="1.1" height="1.8" fill="#888" fill-opacity=".65"/><text x="75.4" y="110.65" font-size="10.8" fill="#555" textLength="19.4" lengthAdjust="spacingAndGlyphs" stroke="#555" stroke-width=".22" text-anchor="end" >37.2</text><rect x="78.8" y="108.25" width="1.1" height="2.4" fill="#666" fill-opacity=".75"/><rect x="78.8" y="104.45" width="1.1" height="1.8" fill="#888" fill-opacity=".65"/><text x="75.4" y="134.1" font-size="10.8" fill="#555" textLength="19.4" lengthAdjust="spacingAndGlyphs" stroke="#555" stroke-width=".22" text-anchor="end" >37.1</text><rect x="78.8" y="131.7" width="1.1" height="2.4" fill="#666" fill-opacity=".75"/><text x="75.4" y="157.55" font-size="10.8" fill="#555" textLength="19.4" lengthAdjust="spacingAndGlyphs" stroke="#555" stroke-width=".22" text-anchor="end" >37.0</text><text x="75.4" y="181" font-size="10.8" fill="#555" textLength="19.4" lengthAdjust="spacingAndGlyphs" stroke="#555" stroke-width=".22" text-anchor="end" >36.9</text><rect x="78.8" y="174.8" width="1.1" height="1.8" fill="#888" fill-opacity=".65"/><rect x="78.8" y="176" width="1.1" height="3" fill="#555" fill-opacity=".8"/><text x="75.4" y="204.45" font-size="10.8" fill="#555" textLength="19.4" lengthAdjust="spacingAndGlyphs" stroke="#555" stroke-width=".22" text-anchor="end" >36.8</text><rect x="78.8" y="202.05" width="1.1" height="2.4" fill="#666" fill-opacity=".75"/><rect x="78.8" y="198.25" width="1.1" height="1.8" fill="#888" fill-opacity=".65"/><text x="75.4" y="227.9" font-size="10.8" fill="#555" textLength="19.4" lengthAdjust="spacingAndGlyphs" stroke="#555" stroke-width=".22" text-anchor="end" >36.7</text><rect x="78.8" y="221.7" width="1.1" height="1.8" fill="#888" fill-opacity=".65"/><text x="75.4" y="251.35" font-size="10.8" fill="#555" textLength="19.4" lengthAdjust="spacingAndGlyphs" stroke="#555" stroke-width=".22" text-anchor="end" >36.6</text><rect x="78.8" y="248.95" width="1.1" height="2.4" fill="#666" fill-opacity=".75"/><rect x="78.8" y="245.15" width="1.1" height="1.8" fill="#888" fill-opacity=".65"/><text x="75.4" y="274.8" font-size="10.8" fill="#555" textLength="19.4" lengthAdjust="spacingAndGlyphs" stroke="#555" stroke-width=".22" text-anchor="end" >36.5</text><rect x="78.8" y="272.4" width="1.1" height="2.4" fill="#666" fill-opacity=".75"/><rect x="78.8" y="268.6" width="1.1" height="1.8" fill="#888" fill-opacity=".65"/><text x="75.4" y="298.25" font-size="10.8" fill="#555" textLength="19.4" lengthAdjust="spacingAndGlyphs" stroke="#555" stroke-width=".22" text-anchor="end" >36.4</text><rect x="78.8" y="295.85" width="1.1" height="2.4" fill="#666" fill-opacity=".75"/><rect x="78.8" y="292.05" width="1.1" height="1.8" fill="#888" fill-opacity=".65"/><text x="75.4" y="321.7" font-size="10.8" fill="#555" textLength="19.4" lengthAdjust="spacingAndGlyphs" stroke="#555" stroke-width=".22" text-anchor="end" >36.3</text><rect x="78.8" y="319.3" width="1.1" height="2.4" fill="#666" fill-opacity=".75"/><rect x="78.8" y="315.5" width="1.1" height="1.8" fill="#888" fill-opacity=".65"/><text x="75.4" y="345.15" font-size="10.8" fill="#555" textLength="19.4" lengthAdjust="spacingAndGlyphs" stroke="#555" stroke-width=".22" text-anchor="end" >36.2</text><rect x="78.8" y="342.75" width="1.1" height="2.4" fill="#666" fill-opacity=".75"/><rect x="78.8" y="338.95" width="1.1" height="1.8" fill="#888" fill-opacity=".65"/><text x="75.4" y="368.6" font-size="10.8" fill="#555" textLength="19.4" lengthAdjust="spacingAndGlyphs" stroke="#555" stroke-width=".22" text-anchor="end" >36.1</text><rect x="78.8" y="366.2" width="1.1" height="2.4" fill="#666" fill-opacity=".75"/><text x="75.4" y="392.05" font-size="10.8" fill="#555" textLength="19.4" lengthAdjust="spacingAndGlyphs" stroke="#555" stroke-width=".22" text-anchor="end" >36.0</text></g>
<g id="legend"><text x="77.3" y="579.5" font-size="12" fill="#222" textLength="77" lengthAdjust="spacingAndGlyphs" font-weight="bold" >Менструация</text><text x="99.7" y="601.5" font-size="12" fill="#3c3c3c" textLength="69.7" lengthAdjust="spacingAndGlyphs" stroke="#3c3c3c" stroke-width=".3" >Менструация</text><text x="99.7" y="625" font-size="12" fill="#3c3c3c" textLength="122.7" lengthAdjust="spacingAndGlyphs" stroke="#3c3c3c" stroke-width=".3" >Небольшие выделения</text><path d="M85.1,589.9 Q86.67,592.31 89.24,594.29 A5.7,5.7 0 1 1 80.96,594.29 Q83.53,592.31 85.1,589.9 Z" fill="#f04343"/><path d="M85.2,616.05 Q86.57,618.68 87.94,620.84 A3.15,3.15 0 1 1 82.46,620.84 Q83.83,618.68 85.2,616.05 Z" fill="#f04343"/><path transform="translate(76.2,683) scale(0.63,0.64)" d="M12,21 C11,21 9.6,19.8 8,18.4 C4,15 0,11.4 0,6.6 C0,2.6 3,0 6.4,0 C8.8,0 10.9,1.2 12,3 C13.1,1.2 15.2,0 17.6,0 C21,0 24,2.6 24,6.6 C24,11.4 20,15 16,18.4 C14.4,19.8 13,21 12,21 Z" fill="#fb57b0"/><text x="99.7" y="694" font-size="12" fill="#3c3c3c" textLength="66.5" lengthAdjust="spacingAndGlyphs" stroke="#3c3c3c" stroke-width=".3" >Половой акт</text><circle cx="197.6" cy="690" r="7.4" fill="#cdcdcd"/><line x1="194.4" y1="693.4" x2="200.8" y2="686.6" stroke="#fff" stroke-width="2.4" stroke-linecap="round"/><text x="211" y="694" font-size="12" fill="#3c3c3c" textLength="86" lengthAdjust="spacingAndGlyphs" stroke="#3c3c3c" stroke-width=".3" >Прием лекарств</text><path transform="translate(331.8,689.9)" d="M-3,-8.1 A8,8 0 1 0 7.6,2.5 A8.74,8.74 0 0 1 -3,-8.1 Z" fill="#f5a21f"/><text x="345.5" y="694.2" font-size="12" fill="#3c3c3c" textLength="100.9" lengthAdjust="spacingAndGlyphs" stroke="#3c3c3c" stroke-width=".3" >Лунный календарь</text><text x="250.1" y="579.5" font-size="12" fill="#222" textLength="101.7" lengthAdjust="spacingAndGlyphs" font-weight="bold" >Тест на овуляцию</text><circle cx="257" cy="597" r="7.5" fill="#fcd23f"/><circle cx="257" cy="619.8" r="7.2" fill="#fff" stroke="#fce18a" stroke-width="1.1"/><text x="271.2" y="601.6" font-size="12" fill="#3c3c3c" textLength="86.1" lengthAdjust="spacingAndGlyphs" stroke="#3c3c3c" stroke-width=".3" >Положительный</text><text x="271.2" y="625.4" font-size="12" fill="#3c3c3c" textLength="83.8" lengthAdjust="spacingAndGlyphs" stroke="#3c3c3c" stroke-width=".3" >Отрицательный</text><text x="395.6" y="579.5" font-size="12" fill="#222" textLength="127" lengthAdjust="spacingAndGlyphs" font-weight="bold" >Тест на беременность</text><rect x="396.8" y="590" width="3" height="13.5" rx="1.2" fill="#8cc220"/><rect x="406.2" y="590" width="3" height="13.5" rx="1.2" fill="#8cc220"/><rect x="401.5" y="613.5" width="3" height="13.5" rx="1.2" fill="#8cc220"/><rect x="396.8" y="636.5" width="3" height="13.5" rx="1.2" fill="#8cc220"/><rect x="406.2" y="636.5" width="3" height="13.5" rx="1.2" fill="#dfeec4"/><text x="417.3" y="601.6" font-size="12" fill="#3c3c3c" textLength="86.1" lengthAdjust="spacingAndGlyphs" stroke="#3c3c3c" stroke-width=".3" >Положительный</text><text x="417.3" y="625.4" font-size="12" fill="#3c3c3c" textLength="83.8" lengthAdjust="spacingAndGlyphs" stroke="#3c3c3c" stroke-width=".3" >Отрицательный</text><text x="417.3" y="647.8" font-size="12" fill="#3c3c3c" textLength="116.8" lengthAdjust="spacingAndGlyphs" stroke="#3c3c3c" stroke-width=".3" >Слабоположительный</text><text x="570" y="579.5" font-size="12" fill="#222" textLength="143.7" lengthAdjust="spacingAndGlyphs" font-weight="bold" >Цервикальная жидкость</text><text x="593.4" y="603.3" font-size="12" fill="#3c3c3c" textLength="25" lengthAdjust="spacingAndGlyphs" stroke="#3c3c3c" stroke-width=".3" >Сухо</text><text x="593.4" y="625.9" font-size="12" fill="#3c3c3c" textLength="44" lengthAdjust="spacingAndGlyphs" stroke="#3c3c3c" stroke-width=".3" >Клейкая</text><text x="593.4" y="648.5" font-size="12" fill="#3c3c3c" textLength="84.6" lengthAdjust="spacingAndGlyphs" stroke="#3c3c3c" stroke-width=".3" >Кремообразная</text><text x="593.4" y="671.1" font-size="12" fill="#3c3c3c" textLength="62" lengthAdjust="spacingAndGlyphs" stroke="#3c3c3c" stroke-width=".3" >Водянистая</text><text x="593.4" y="693.7" font-size="12" fill="#3c3c3c" textLength="75.5" lengthAdjust="spacingAndGlyphs" stroke="#3c3c3c" stroke-width=".3" >Яичный белок</text><path transform="translate(579.2,599.6)" d="M0,-5.1 C1.2,-3.2 4.7,-1.3 4.7,1.3 A4.7,3.8 0 0 1 -4.7,1.3 C-4.7,-1.3 -1.2,-3.2 0,-5.1 Z" fill="#fff" stroke="#a6d1f1" stroke-width="1.3" stroke-linejoin="round"/><rect x="574.8" y="617.2" width="8.8" height="1.5" fill="#78bdef"/><rect x="574.8" y="627.7" width="8.8" height="1.5" fill="#78bdef"/><rect x="578.35" y="618" width="1.7" height="10.4" fill="#78bdef"/><path d="M575.7,618.6 h7 c-.4,2.2 -1.6,3.4 -3,4.2 h-1 c-1.4,-.8 -2.6,-2 -3,-4.2 z M575.7,627.8 h7 c-.4,-2.2 -1.6,-3.4 -3,-4.2 h-1 c-1.4,.8 -2.6,2 -3,4.2 z" fill="#78bdef" fill-opacity=".6"/><path transform="translate(578.9,645.8) rotate(-36)" d="M0,-5.5 A5.5,5.5 0 0 1 0,5.5 A3.45,3.45 0 0 1 0,-1.4 A2.05,2.05 0 0 0 0,-5.5 Z" fill="#78bdef"/><path d="M579.2,659.35 Q580.33,662.34 583.25,664.78 A5.05,5.05 0 1 1 575.15,664.78 Q578.07,662.34 579.2,659.35 Z" fill="#78bdef"/><ellipse cx="579.2" cy="688.7" rx="5.05" ry="6.5" fill="#78bdef"/></g>
</svg>
</body>
</html>
